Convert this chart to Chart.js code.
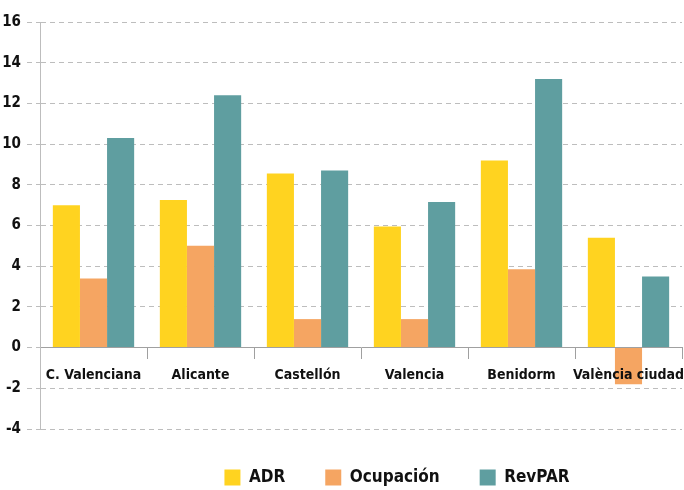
<!DOCTYPE html>
<html>
<head>
<meta charset="utf-8">
<script src="https://cdn.jsdelivr.net/npm/chart.js@4"></script>
<style>
  html, body { margin: 0; padding: 0; background: #fff; }
  #wrap { width: 684px; height: 490px; }
</style>
</head>
<body>
<div id="wrap"><canvas id="chart"></canvas></div>
<script>
// Data
const categories = ['C. Valenciana', 'Alicante', 'Castellón', 'Valencia', 'Benidorm', 'València ciudad'];
const adr = [7.0, 7.25, 8.55, 5.95, 9.2, 5.4];
const ocupacion = [3.4, 5.0, 1.4, 1.4, 3.85, -1.8];
const revpar = [10.3, 12.4, 8.7, 7.15, 13.2, 3.5];
const yTicks = { min: -4, max: 16, step: 2 };

const FONT = "'Liberation Sans Narrow', 'DejaVu Sans Condensed', sans-serif";
const gridColor = '#bdbdbd';

const ctx = document.getElementById('chart').getContext('2d');
new Chart(ctx, {
    type: 'bar',
    data: {
        labels: categories,
        datasets: [
            { label: 'ADR', data: adr, backgroundColor: '#ffd320' },
            { label: 'Ocupación', data: ocupacion, backgroundColor: '#f5a562' },
            { label: 'RevPAR', data: revpar, backgroundColor: '#5f9ea0' },
        ],
    },
    options: {
        responsive: true,
        maintainAspectRatio: false,
        animation: false,
        layout: { padding: { left: 0, right: 2, top: 22, bottom: -6 } },
        datasets: { bar: { barPercentage: 1, categoryPercentage: 0.76, borderWidth: 0 } },
        scales: {
            x: {
                position: { y: 0 },
                afterFit: (s) => { s.paddingLeft = 0; s.paddingRight = 0; },
                grid: {
                    drawOnChartArea: false,
                    tickLength: 11,
                    color: (c) => (c.index === 0 || c.index === categories.length ? 'rgba(0,0,0,0)' : '#a0a0a0'),
                },
                border: { color: '#a0a0a0', width: 1 },
                ticks: {
                    z: 1, // labels drawn over the bars, as in the original
                    padding: 8,
                    maxRotation: 0,
                    minRotation: 0,
                    autoSkip: false,
                    color: '#111',
                    font: { family: FONT, size: 14, weight: 'bold' },
                },
            },
            y: {
                min: yTicks.min,
                max: yTicks.max,
                afterFit: (s) => { s.width = 40; },
                grid: {
                    color: gridColor,
                    tickLength: 13,
                    tickBorderDash: [5, 4],
                    tickColor: gridColor,
                },
                border: { display: true, dash: [5, 4], color: gridColor },
                ticks: {
                    stepSize: yTicks.step,
                    padding: 6,
                    color: '#111',
                    font: { family: FONT, size: 15, weight: 'bold' },
                },
            },
        },
        plugins: {
            legend: {
                position: 'bottom',
                labels: {
                    boxWidth: 16,
                    boxHeight: 16,
                    padding: 40,
                    color: '#111',
                    font: { family: FONT, size: 17, weight: 'bold' },
                },
            },
            tooltip: { enabled: false },
        },
    },
    plugins: [{
        // legend in the original sits right of centre
        id: 'legendShift',
        afterLayout(chart) {
            chart.legend.left += 56;
            chart.legend.right += 56;
        },
    }],
});
</script>
</body>
</html>
